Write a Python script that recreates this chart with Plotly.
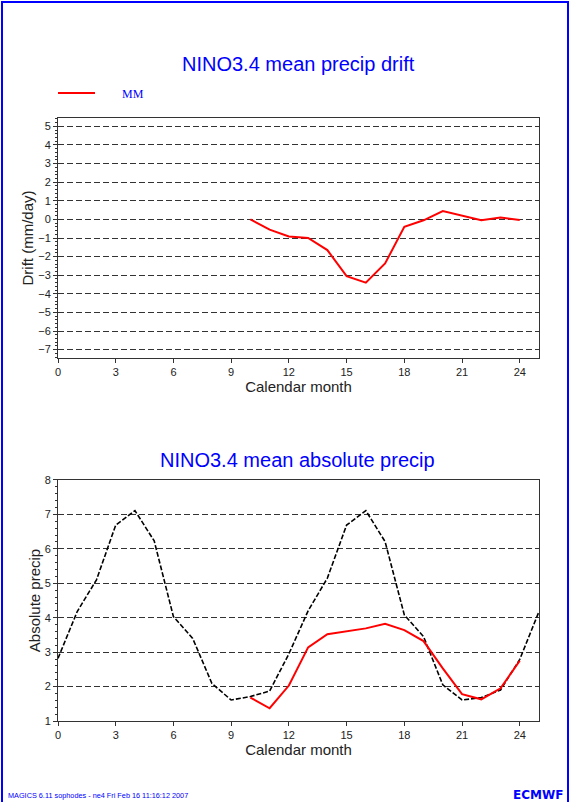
import plotly.graph_objects as go
from plotly.subplots import make_subplots

# drift (model minus climate), months 10..24
drift_month = [10, 11, 12, 13, 14, 15, 16, 17, 18, 19, 20, 21, 22, 23, 24]
drift_mm = [0.0, -0.55, -0.92, -1.0, -1.65, -3.05, -3.4, -2.37, -0.4, -0.05, 0.45, 0.2, -0.04, 0.1, -0.03]

# observed climatology (black dashed), months 0..25
clim_month = list(range(0, 26))
clim_precip = [2.82, 4.18, 5.1, 6.69, 7.11, 6.23, 4.03, 3.4, 2.09, 1.61, 1.71, 1.87,
               2.95, 4.2, 5.15, 6.69, 7.11, 6.21, 4.08, 3.45, 2.05, 1.61, 1.68, 1.9,
               2.79, 4.18]

# model (red), months 10..24
mm_month = [10, 11, 12, 13, 14, 15, 16, 17, 18, 19, 20, 21, 22, 23, 24]
mm_precip = [1.68, 1.37, 2.03, 3.14, 3.52, 3.6, 3.69, 3.82, 3.64, 3.32, 2.53, 1.78, 1.63, 1.95, 2.75]

xticks = [0, 3, 6, 9, 12, 15, 18, 21, 24]

blue = "#0000ff"
tickfont = dict(family="Liberation Sans, Arial", size=11, color="#222")
titlefont = dict(family="Liberation Sans, Arial", size=15, color="#222")

fig = make_subplots(rows=2, cols=1, vertical_spacing=0.2)

fig.add_trace(go.Scatter(x=drift_month, y=drift_mm, mode="lines", name="MM",
                         line=dict(color="red", width=2)), row=1, col=1)
fig.add_trace(go.Scatter(x=clim_month, y=clim_precip, mode="lines", name="clim",
                         line=dict(color="black", width=1.6, dash="5px,2px")), row=2, col=1)
fig.add_trace(go.Scatter(x=mm_month, y=mm_precip, mode="lines", name="MM",
                         line=dict(color="red", width=2)), row=2, col=1)

ax_common = dict(showline=True, linecolor="#333", linewidth=1, mirror=True,
                 ticks="outside", ticklen=4, tickcolor="#333", tickfont=tickfont,
                 zeroline=False)

fig.update_xaxes(range=[0, 25], tickvals=xticks, showgrid=False,
                 title=dict(text="Calendar month", font=titlefont, standoff=1),
                 **ax_common)
fig.update_yaxes(showgrid=True, gridcolor="#333", griddash="6px,3px", gridwidth=1,
                 dtick=1, minor=dict(dtick=0.2, ticks="outside", ticklen=2, tickcolor="#333"),
                 **ax_common)

fig.update_xaxes(domain=[0, 1], row=1, col=1)
fig.update_yaxes(range=[-7.45, 5.45], tickvals=list(range(-7, 6)),
                 domain=[0.602, 1.0], row=1, col=1,
                 title=dict(text="Drift (mm/day)", font=titlefont, standoff=0))
fig.update_yaxes(range=[1, 8], tickvals=list(range(1, 9)),
                 domain=[0, 0.3997], row=2, col=1,
                 title=dict(text="Absolute precip", font=titlefont, standoff=0))

W, H = 570, 802
L, R, T, B = 58, 31, 118, 81
pw, ph = W - L - R, H - T - B


def px(x):
    return (x - L) / pw


def py(y):
    return (H - B - y) / ph


annos = [
    dict(text="NINO3.4 mean precip drift", x=px(298), y=py(64), font=dict(size=20, color=blue)),
    dict(text="NINO3.4 mean absolute precip", x=px(297), y=py(460), font=dict(size=20, color=blue)),
    dict(text="MM", x=px(120), y=py(94), xanchor="left",
         font=dict(family="Liberation Serif, Times New Roman", size=12, color=blue)),
    dict(text="MAGICS 6.11 sophodes - ne4 Fri Feb 16 11:16:12 2007", x=px(6), y=py(795),
         xanchor="left", font=dict(size=7.3, color=blue)),
    dict(text="<b>ECMWF</b>", x=px(565), y=py(795), xanchor="right",
         font=dict(family="DejaVu Sans", size=12, color=blue)),
]
for a in annos:
    a.setdefault("xanchor", "center")
    a["yanchor"] = "middle"
    a["xref"] = "paper"
    a["yref"] = "paper"
    a["showarrow"] = False
    a["font"].setdefault("family", "Liberation Sans, Arial")
    fig.add_annotation(**a)

fig.add_shape(type="line", xref="paper", yref="paper", x0=px(58), x1=px(95), y0=py(93), y1=py(93),
              line=dict(color="red", width=2))
fig.add_shape(type="rect", xref="paper", yref="paper", x0=px(2), x1=px(568), y0=py(810), y1=py(2),
              line=dict(color=blue, width=2))

fig.update_layout(width=W, height=H, margin=dict(l=L, r=R, t=T, b=B),
                  plot_bgcolor="white", paper_bgcolor="white", showlegend=False)

fig.write_html("out.html", config={"displayModeBar": False},
               post_script="document.body.style.margin='0';document.body.style.overflow='hidden';")
